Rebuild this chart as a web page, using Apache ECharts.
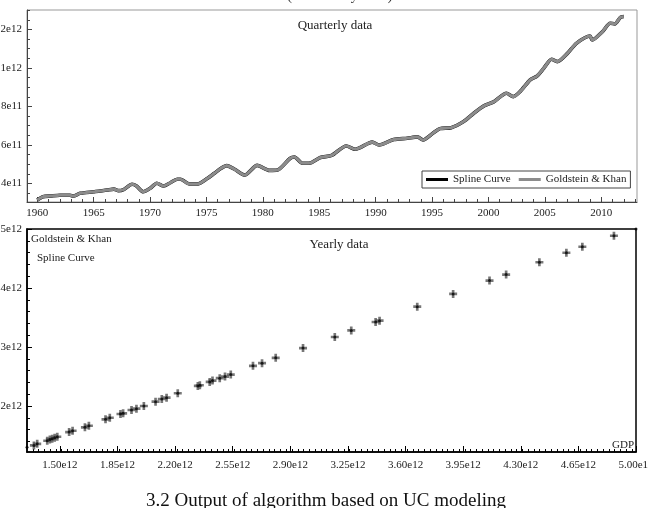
<!DOCTYPE html>
<html>
<head>
<meta charset="utf-8">
<script src="https://cdn.jsdelivr.net/npm/echarts@6/dist/echarts.min.js"></script>
<style>
html, body { margin: 0; padding: 0; background: #fff; }
#main { width: 648px; height: 508px; }
</style>
</head>
<body>
<div id="main"></div>
<script>
// ---- quarterly panel (years, GDP in units of 1e11) ----
var qYears = [1960.0, 1960.5, 1961.2, 1962.0, 1962.9, 1963.2, 1963.8, 1965.0, 1965.6, 1966.2,
  1966.8, 1967.2, 1967.7, 1968.4, 1968.8, 1969.4, 1970.0, 1970.6, 1971.2, 1971.8,
  1972.4, 1972.7, 1973.5, 1974.2, 1975.1, 1975.7, 1976.3, 1976.8, 1977.5, 1978.4,
  1979.5, 1980.6, 1981.3, 1982.4, 1982.8, 1983.5, 1984.1, 1985.1, 1986.1, 1987.4,
  1988.2, 1989.7, 1990.3, 1991.6, 1992.8, 1993.7, 1994.2, 1995.1, 1995.7, 1996.7,
  1997.8, 1998.7, 1999.6, 2000.5, 2001.6, 2002.2, 2002.8, 2003.7, 2004.3, 2004.9,
  2005.6, 2006.1, 2007.0, 2007.8, 2009.0, 2009.2, 2010.1, 2010.8, 2011.2, 2011.7, 2012.0];
var qValues = [3.14, 3.31, 3.35, 3.39, 3.39, 3.35, 3.49, 3.57, 3.61, 3.66,
  3.71, 3.63, 3.70, 3.96, 3.87, 3.57, 3.75, 4.01, 3.87, 4.04,
  4.22, 4.22, 3.97, 3.97, 4.27, 4.53, 4.79, 4.93, 4.74, 4.44,
  4.94, 4.68, 4.70, 5.30, 5.38, 5.05, 5.05, 5.35, 5.46, 5.95,
  5.78, 6.15, 6.00, 6.28, 6.35, 6.42, 6.26, 6.62, 6.85, 6.90,
  7.22, 7.65, 8.03, 8.25, 8.69, 8.51, 8.77, 9.38, 9.58, 9.98,
  10.45, 10.33, 10.76, 11.28, 11.66, 11.45, 11.88, 12.32, 12.29, 12.63, 12.67];
var yearTicks = [1960, 1965, 1970, 1975, 1980, 1985, 1990, 1995, 2000, 2005, 2010];
var qValueTicks = [4e11, 6e11, 8e11, 1e12, 1.2e12];

// ---- yearly panel (GDP vs fitted, units of 1e12) ----
var yearlyGdp = [1.30, 1.342, 1.362, 1.423, 1.439, 1.453, 1.468, 1.484, 1.556, 1.577,
  1.652, 1.676, 1.777, 1.803, 1.868, 1.884, 1.935, 1.965, 2.010, 2.081,
  2.119, 2.148, 2.216, 2.338, 2.350, 2.410, 2.427, 2.471, 2.503, 2.538,
  2.673, 2.728, 2.811, 2.977, 3.170, 3.270, 3.418, 3.442, 3.671, 3.889,
  4.110, 4.211, 4.413, 4.577, 4.674, 4.866, 5.00];
var yearlyFit = [1.30, 1.332, 1.359, 1.410, 1.434, 1.444, 1.461, 1.478, 1.558, 1.580,
  1.638, 1.665, 1.774, 1.801, 1.864, 1.876, 1.932, 1.954, 2.000, 2.073,
  2.119, 2.141, 2.216, 2.340, 2.352, 2.408, 2.430, 2.471, 2.498, 2.532,
  2.680, 2.726, 2.816, 2.981, 3.170, 3.281, 3.423, 3.446, 3.684, 3.900,
  4.126, 4.228, 4.437, 4.597, 4.699, 4.886, 5.00];
var gdpTicks = [1.50e12, 1.85e12, 2.20e12, 2.55e12, 2.90e12, 3.25e12, 3.60e12, 3.95e12, 4.30e12, 4.65e12, 5.00e12];
var fitTicks = [2e12, 3e12, 4e12, 5e12];

var serif = 'Liberation Serif';
var myChart = echarts.init(document.getElementById('main'));

var qData = qYears.map(function (y, i) { return [y, qValues[i] * 1e11]; });
var splinePts = yearlyGdp.map(function (x, i) { return [x * 1e12, yearlyFit[i] * 1e12]; });
// Goldstein & Khan markers: the end points only show the spline dot
var gkPts = splinePts.slice(1, -1);

// minor tick positions
var minorYears = [], minorQ = [], minorGdp = [], minorFit = [];
for (var y = 1960; y <= 2013; y++) minorYears.push(y);
for (var i = 7; i <= 26; i++) minorQ.push(i * 0.5e11);
for (var j = 1; j <= 106; j++) minorGdp.push(1.30e12 + j * 0.035e12);
for (var k = 7; k <= 25; k++) minorFit.push(k * 0.2e12);

function sci(v) {
  var e = Math.floor(Math.log10(v) + 1e-9);
  var m = v / Math.pow(10, e);
  return (+m.toFixed(2)) + 'e' + e;
}

var lblStyle = { color: '#222', fontFamily: serif, fontSize: 11 };

var option = {
  animation: false,
  legend: {
    data: ['Spline Curve', 'Goldstein & Khan'],
    left: 422, top: 171,
    icon: 'rect', itemWidth: 22, itemHeight: 3, itemGap: 8,
    padding: [3, 4, 3, 4],
    borderColor: '#444', borderWidth: 1,
    backgroundColor: '#fff',
    textStyle: { color: '#222', fontFamily: serif, fontSize: 11 },
    selectedMode: false
  },
  grid: [
    { left: 27, top: 10, width: 610, height: 192, show: true, borderColor: '#999', borderWidth: 1, outerBoundsMode: 'none' },
    { left: 27, top: 229, width: 609, height: 223, show: true, borderColor: '#000', borderWidth: 1.5, outerBoundsMode: 'none' }
  ],
  xAxis: [
    {
      gridIndex: 0, type: 'value', min: 1959.09, max: 2013.17,
      axisLine: { lineStyle: { color: '#444' } },
      axisTick: { inside: true, length: 5, customValues: yearTicks, lineStyle: { color: '#444' } },
      axisLabel: Object.assign({ customValues: yearTicks, margin: 6, formatter: function (v) { return String(v); } }, lblStyle),
      splitLine: { show: false }
    },
    {
      gridIndex: 0, type: 'value', position: 'bottom', min: 1959.09, max: 2013.17,
      axisLine: { show: false },
      axisTick: { inside: true, length: 3, customValues: minorYears, lineStyle: { color: '#444' } },
      axisLabel: { show: false }, splitLine: { show: false }
    },
    {
      gridIndex: 1, type: 'value', min: 1.30e12, max: 5.0e12,
      axisLine: { lineStyle: { color: '#000', width: 1.5 } },
      axisTick: { inside: true, length: 6, customValues: gdpTicks, lineStyle: { color: '#000' } },
      axisLabel: Object.assign({ customValues: gdpTicks, margin: 8, formatter: function (v) { return (v / 1e12).toFixed(2) + 'e12'; } }, lblStyle),
      splitLine: { show: false }
    },
    {
      gridIndex: 1, type: 'value', position: 'bottom', min: 1.30e12, max: 5.0e12,
      axisLine: { show: false },
      axisTick: { inside: true, length: 3, customValues: minorGdp, lineStyle: { color: '#000' } },
      axisLabel: { show: false }, splitLine: { show: false }
    }
  ],
  yAxis: [
    {
      gridIndex: 0, type: 'value', min: 3.04e11, max: 1.301e12,
      axisLine: { show: true, lineStyle: { color: '#444' } },
      axisTick: { show: true, inside: true, length: 5, customValues: qValueTicks, lineStyle: { color: '#444' } },
      axisLabel: Object.assign({ customValues: qValueTicks, margin: 5, formatter: sci }, lblStyle),
      splitLine: { show: false }
    },
    {
      gridIndex: 0, type: 'value', position: 'left', min: 3.04e11, max: 1.301e12,
      axisLine: { show: false },
      axisTick: { show: true, inside: true, length: 3, customValues: minorQ, lineStyle: { color: '#444' } },
      axisLabel: { show: false }, splitLine: { show: false }
    },
    {
      gridIndex: 1, type: 'value', min: 1.22e12, max: 5.0e12,
      axisLine: { show: true, lineStyle: { color: '#000', width: 1.5 } },
      axisTick: { show: true, inside: true, length: 5, customValues: fitTicks, lineStyle: { color: '#000' } },
      axisLabel: Object.assign({ customValues: fitTicks, margin: 5, formatter: sci }, lblStyle),
      splitLine: { show: false }
    },
    {
      gridIndex: 1, type: 'value', position: 'left', min: 1.22e12, max: 5.0e12,
      axisLine: { show: false },
      axisTick: { show: true, inside: true, length: 3, customValues: minorFit, lineStyle: { color: '#000' } },
      axisLabel: { show: false }, splitLine: { show: false }
    }
  ],
  series: [
    {
      name: 'Spline Curve', type: 'line', xAxisIndex: 0, yAxisIndex: 0,
      data: qData, smooth: 0.25, showSymbol: false,
      itemStyle: { color: '#000' },
      lineStyle: { color: '#000', width: 3.6 }
    },
    {
      name: 'Goldstein & Khan', type: 'line', xAxisIndex: 0, yAxisIndex: 0,
      data: qData, smooth: 0.25, showSymbol: false,
      itemStyle: { color: '#8c8c8c' },
      lineStyle: { color: '#8c8c8c', width: 3.1 }
    },
    {
      name: 'Goldstein & Khan', type: 'scatter', xAxisIndex: 2, yAxisIndex: 2,
      data: gkPts,
      symbol: 'path://M2,0H4V2H6V4H4V6H2V4H0V2H2Z', symbolSize: 8,
      itemStyle: { color: '#555' }
    },
    {
      name: 'Spline Curve', type: 'scatter', xAxisIndex: 2, yAxisIndex: 2,
      data: splinePts, symbolSize: 3,
      itemStyle: { color: '#000' }
    }
  ],
  graphic: [
    { type: 'text', left: 'center', top: -11, style: { text: 'GDP (Real Yearly Data)', fill: '#333', font: '14px "Liberation Serif"' } },
    { type: 'text', x: 335, y: 26, style: { text: 'Quarterly data', fill: '#222', font: '13px "Liberation Serif"', textAlign: 'center', textVerticalAlign: 'middle' } },
    { type: 'text', x: 339, y: 245, style: { text: 'Yearly data', fill: '#222', font: '13px "Liberation Serif"', textAlign: 'center', textVerticalAlign: 'middle' } },
    { type: 'text', x: 31, y: 239, style: { text: 'Goldstein & Khan', fill: '#222', font: '11px "Liberation Serif"', textVerticalAlign: 'middle' } },
    { type: 'text', x: 37, y: 258, style: { text: 'Spline Curve', fill: '#222', font: '11px "Liberation Serif"', textVerticalAlign: 'middle' } },
    { type: 'text', x: 634, y: 445, style: { text: 'GDP', fill: '#222', font: '11px "Liberation Serif"', textAlign: 'right', textVerticalAlign: 'middle' } },
    { type: 'text', x: 326, y: 492, style: { text: '3.2 Output of algorithm based on UC modeling', fill: '#111', font: '19px "Liberation Serif"', textAlign: 'center' } }
  ]
};
myChart.setOption(option);
</script>
</body>
</html>
